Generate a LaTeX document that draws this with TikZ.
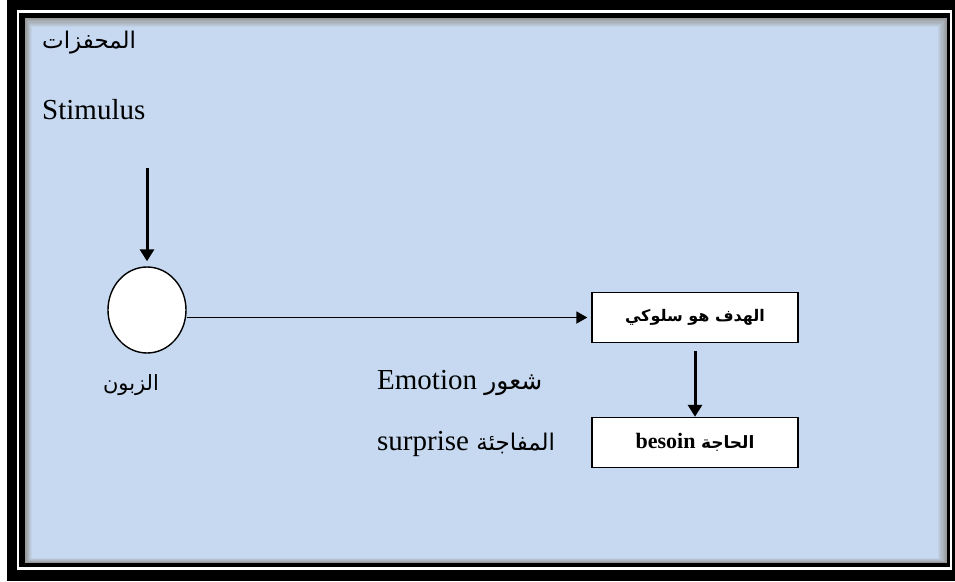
\documentclass[tikz,border=0pt]{standalone}
\usepackage{fontspec}
\setmainfont{Liberation Serif}
\newfontfamily\arabicfont[Script=Arabic]{DejaVu Sans}
\TeXXeTstate=1
\usetikzlibrary{shapes.geometric, arrows.meta}
\definecolor{bluefill}{RGB}{198,217,240}
\colorlet{bevel}{gray!80}

\begin{document}
\begin{tikzpicture}[x=1pt, y=-1pt,
  txt/.style={font=\fontsize{29}{34}\selectfont, inner sep=0pt},
  artxt/.style={font=\arabicfont\fontsize{21}{26}\selectfont, inner sep=0pt},
  box/.style={rectangle, draw=black, line width=1.4pt, fill=white, minimum width=206pt, minimum height=50pt, inner sep=0pt},
  arr/.style={line width=3pt, -{Triangle[length=12pt,width=14pt]}},
  thinarr/.style={line width=1.8pt, -{Triangle[length=11pt,width=12pt]}}]
\useasboundingbox (0,0) rectangle (955,581);

% frame
\fill[black] (7,0) rectangle (955,581);
\fill[white] (17,10) rectangle (952,570);
\fill[black] (19,13) rectangle (950,567);
\foreach \k in {0,...,8}{
  \pgfmathtruncatemacro\p{100*\k/8}
  \fill[bluefill!\p!bevel] (25+0.875*\k,18+1.125*\k) rectangle (947-1.125*\k,563-0.625*\k);
}

\coordinate (stimtop) at (147,168);

\node[artxt, anchor=west, font=\arabicfont\fontsize{23}{28}\selectfont] (stimar) at (42,43) {\beginR المحفزات\endR};
\node[txt, anchor=west] (stim) at (42,110) {Stimulus};
\node[ellipse, draw=black, line width=1.4pt, fill=white, minimum width=78pt, minimum height=86pt] (cust) at (147,310) {};
\node[artxt] (custlbl) at (131,385) {\beginR الزبون\endR};

\node[box] (goal) at (695,317.5) {\arabicfont\bfseries\fontsize{16}{20}\selectfont\beginR الهدف هو سلوكي\endR};
\node[box] (need) at (695,442.5) {\bfseries\fontsize{22}{26}\selectfont besoin \arabicfont\fontsize{17}{20}\selectfont\beginR الحاجة\endR};

\node[txt, anchor=west] (emo) at (377,383) {Emotion \arabicfont\fontsize{25}{28}\selectfont\beginR شعور\endR};
\node[txt, anchor=west] (surp) at (377,444) {surprise \arabicfont\fontsize{23}{28}\selectfont\beginR المفاجئة\endR};

\draw[arr, shorten >=5pt] (stimtop) -- (cust);
\draw[thinarr, shorten >=4pt] (cust.east |- goal.west) -- (goal.west);
\draw[arr, shorten <=8pt] (goal.south) -- (need.north);
\end{tikzpicture}
\end{document}
